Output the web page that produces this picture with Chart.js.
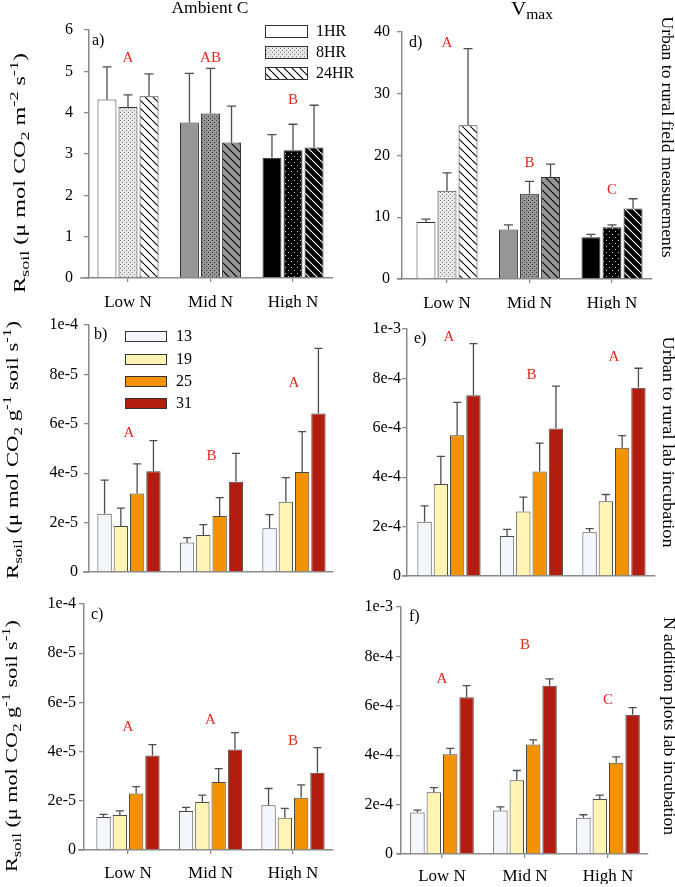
<!DOCTYPE html>
<html>
<head>
<meta charset="utf-8">
<script src="https://cdn.jsdelivr.net/npm/chart.js@4.4.1/dist/chart.umd.min.js"></script>
<style>
  html, body { margin: 0; padding: 0; background: #fff; overflow: hidden; }
  #wrap { position: relative; width: 675px; height: 887px; }
  #wrap canvas { position: absolute; left: 0; top: 0; }
</style>
</head>
<body>
<div id="wrap">
  <canvas id="pa" width="675" height="887"></canvas>
  <canvas id="pd" width="675" height="887"></canvas>
  <canvas id="pb" width="675" height="887"></canvas>
  <canvas id="pe" width="675" height="887"></canvas>
  <canvas id="pc" width="675" height="887"></canvas>
  <canvas id="pf" width="675" height="887"></canvas>
</div>
<script>
// --- data ---
const categories = ['Low N', 'Mid N', 'High N'];
const hours = ['1HR', '8HR', '24HR'];
const temps = ['13', '19', '25', '31'];

// a) Ambient C, field (one row per hour)
const ambientMean = [[4.32, 3.76, 2.91], [4.14, 3.98, 3.09], [4.40, 3.28, 3.16]];
const ambientErr  = [[0.79, 1.19, 0.56], [0.29, 1.09, 0.63], [0.54, 0.88, 1.02]];
const ambientLetters = ['A', 'AB', 'B'];

// d) Vmax, field
const vmaxMean = [[9.24, 8.0, 6.76], [14.3, 13.8, 8.38], [24.9, 16.5, 11.4]];
const vmaxErr  = [[0.46, 0.76, 0.48], [2.9, 2.0, 0.38], [12.4, 2.1, 1.6]];
const vmaxLetters = ['A', 'B', 'C'];

// b) urban to rural lab incubation, ambient (one row per temperature)
const labMean = [[2.36e-5, 1.19e-5, 1.77e-5], [1.86e-5, 1.50e-5, 2.84e-5], [3.18e-5, 2.27e-5, 4.05e-5], [4.08e-5, 3.65e-5, 6.42e-5]];
const labErr  = [[1.36e-5, 0.20e-5, 0.55e-5], [0.73e-5, 0.42e-5, 0.98e-5], [1.20e-5, 0.74e-5, 1.63e-5], [1.24e-5, 1.15e-5, 2.63e-5]];
const labLetters = ['A', 'B', 'A'];

// e) urban to rural lab incubation, Vmax
const labVmaxMean = [[2.20e-4, 1.62e-4, 1.77e-4], [3.72e-4, 2.61e-4, 3.03e-4], [5.70e-4, 4.23e-4, 5.19e-4], [7.32e-4, 5.97e-4, 7.62e-4]];
const labVmaxErr  = [[0.64e-4, 0.27e-4, 0.15e-4], [1.12e-4, 0.58e-4, 0.27e-4], [1.33e-4, 1.15e-4, 0.49e-4], [2.09e-4, 1.72e-4, 0.79e-4]];
const labVmaxLetters = ['A', 'B', 'A'];

// c) N addition plots lab incubation, ambient
const addMean = [[1.34e-5, 1.59e-5, 1.82e-5], [1.42e-5, 1.95e-5, 1.31e-5], [2.30e-5, 2.76e-5, 2.12e-5], [3.84e-5, 4.09e-5, 3.14e-5]];
const addErr  = [[0.11e-5, 0.14e-5, 0.68e-5], [0.17e-5, 0.28e-5, 0.38e-5], [0.28e-5, 0.55e-5, 0.53e-5], [0.44e-5, 0.68e-5, 1.02e-5]];
const addLetters = ['A', 'A', 'B'];

// f) N addition plots lab incubation, Vmax
const addVmaxMean = [[1.68e-4, 1.76e-4, 1.47e-4], [2.50e-4, 2.99e-4, 2.23e-4], [4.04e-4, 4.43e-4, 3.69e-4], [6.35e-4, 6.81e-4, 5.64e-4]];
const addVmaxErr  = [[0.10e-4, 0.15e-4, 0.12e-4], [0.19e-4, 0.39e-4, 0.15e-4], [0.24e-4, 0.19e-4, 0.24e-4], [0.47e-4, 0.28e-4, 0.29e-4]];
const addVmaxLetters = ['A', 'B', 'C'];

// tick values and their printed labels
const ticksAmbient = [0, 1, 2, 3, 4, 5, 6];
const ticksAmbientText = ['0', '1', '2', '3', '4', '5', '6'];
const ticksVmax = [0, 10, 20, 30, 40];
const ticksVmaxText = ['0', '10', '20', '30', '40'];
const ticksSmall = [0, 2e-5, 4e-5, 6e-5, 8e-5, 1e-4];
const ticksSmallText = ['0', '2e-5', '4e-5', '6e-5', '8e-5', '1e-4'];
const ticksLarge = [0, 2e-4, 4e-4, 6e-4, 8e-4, 1e-3];
const ticksLargeText = ['0', '2e-4', '4e-4', '6e-4', '8e-4', '1e-3'];

// --- styles ---
const FONT = "'Liberation Serif', 'Times New Roman', serif";
const AXIS = '#8a8a8a';
const RED = '#e3261e';
const tempColors = ['#f3f7fc', '#fff4b4', '#f39200', '#b31d10'];

Chart.defaults.font.family = FONT;
Chart.defaults.color = '#000';

function dotted(bg, fg, n) {
  const c = document.createElement('canvas');
  c.width = c.height = n;
  const g = c.getContext('2d');
  g.fillStyle = bg; g.fillRect(0, 0, n, n);
  g.fillStyle = fg;
  g.fillRect(0, 0, 1, 1);
  g.fillRect(n / 2, n / 2, 1, 1);
  return g.createPattern(c, 'repeat');
}

function hatched(bg, fg) {
  const n = 8;
  const c = document.createElement('canvas');
  c.width = c.height = n;
  const g = c.getContext('2d');
  g.fillStyle = bg; g.fillRect(0, 0, n, n);
  g.strokeStyle = fg; g.lineWidth = 1.1;
  g.beginPath();
  for (const o of [-n, 0, n]) { g.moveTo(o, 0); g.lineTo(o + n, n); }
  g.stroke();
  return g.createPattern(c, 'repeat');
}

// one row per hour, one entry per N level
const fieldFills = [
  ['#ffffff', '#969696', '#000000'],
  [dotted('#e6e6e6', '#8f8f8f', 4), dotted('#969696', '#383838', 4), dotted('#000000', '#d0d0d0', 6)],
  [hatched('#ffffff', '#000000'), hatched('#969696', '#000000'), hatched('#000000', '#ffffff')]
];

// panel geometry in page pixels
const layout = {
  a: { left: 89, right: 333, top: 30, bottom: 278, c1: 128, c3: 293, xStart: 80, pad: 11, xPad: 10, cat: 0.765, bar: 0.9, cap: 4.5 },
  d: { left: 402, right: 652, top: 32, bottom: 279, c1: 447, c3: 612, xStart: 397, pad: 7, xPad: 10, cat: 0.765, bar: 0.9, cap: 4.5 },
  b: { left: 89, right: 333, top: 325, bottom: 572, c1: 129, c3: 294, xStart: 83, pad: 6, xPad: 9, cat: 0.79, bar: 0.88, cap: 4 },
  e: { left: 407, right: 655, top: 329, bottom: 576, c1: 449, c3: 614, xStart: 402, pad: 1, xPad: 9, cat: 0.79, bar: 0.88, cap: 4 },
  c: { left: 84, right: 333, top: 604, bottom: 850, c1: 128, c3: 293, xStart: 78, pad: 3, xPad: 9, cat: 0.79, bar: 0.88, cap: 4 },
  f: { left: 401, right: 648, top: 607, bottom: 854, c1: 442, c3: 608, xStart: 397, pad: 3, xPad: 8, cat: 0.79, bar: 0.88, cap: 4 }
};

// rich text: _{sub} and ^{sup}
function parseRich(s) {
  const parts = [];
  const re = /([_^])\{([^}]*)\}/g;
  let last = 0, m;
  while ((m = re.exec(s))) {
    if (m.index > last) parts.push({ t: s.slice(last, m.index) });
    parts.push({ t: m[2], sub: m[1] === '_', sup: m[1] === '^' });
    last = re.lastIndex;
  }
  if (last < s.length) parts.push({ t: s.slice(last) });
  return parts;
}

function drawRich(ctx, s, x, y, size, rot, len) {
  const parts = parseRich(s);
  const small = Math.round(size * 0.72);
  ctx.save();
  ctx.translate(x, y);
  ctx.rotate(rot || 0);
  let w = 0;
  const widths = parts.map(p => {
    ctx.font = (p.sub || p.sup ? small : size) + 'px ' + FONT;
    const pw = ctx.measureText(p.t).width;
    w += pw;
    return pw;
  });
  if (len) ctx.scale(len / w, 1);
  ctx.fillStyle = '#000';
  ctx.textAlign = 'left';
  ctx.textBaseline = 'middle';
  let cx = -w / 2;
  parts.forEach((p, i) => {
    ctx.font = (p.sub || p.sup ? small : size) + 'px ' + FONT;
    const dy = p.sub ? size * 0.3 : p.sup ? -size * 0.38 : 0;
    ctx.fillText(p.t, cx, dy);
    cx += widths[i];
  });
  ctx.restore();
}

const yTitleField = 'R_{soil} (μ mol CO_{2} m^{-2} s^{-1})';
const yTitleLab = 'R_{soil} (μ mol CO_{2} g^{-1} soil s^{-1})';

const decoById = {
  pa: {
    tag: 'a)', tagPos: [92, 41], letters: ambientLetters, letterY: [5.32, 5.32, 4.31], xStart: layout.a.xStart,
    legend: { labels: hours, fills: fieldFills.map(r => r[0]), x: 265, w: 42, h: 12, ys: [31, 52, 73], tx: 316 },
    texts: [
      { s: 'Ambient C', x: 210, y: 9, size: 17, len: 77 },
      { s: yTitleField, x: 21, y: 173, size: 16, rot: -Math.PI / 2, len: 240 }
    ]
  },
  pd: {
    tag: 'd)', tagPos: [409, 43], letters: vmaxLetters, letterY: [38.2, 18.8, 14.4], xStart: layout.d.xStart,
    texts: [
      { s: 'V_{max}', x: 532, y: 10, size: 19, len: 42 },
      { s: 'Urban to rural field measurements', x: 666, y: 137, size: 17, rot: Math.PI / 2, len: 241 }
    ]
  },
  pb: {
    tag: 'b)', tagPos: [94, 335], letters: labLetters, letterY: [56.3e-6, 47.0e-6, 76.5e-6], xStart: layout.b.xStart,
    legend: { labels: temps, fills: tempColors, x: 125, w: 41, h: 10, ys: [336, 359, 381, 403], tx: 176 },
    texts: [
      { s: yTitleLab, x: 14, y: 450, size: 16, rot: -Math.PI / 2, len: 258 }
    ]
  },
  pe: {
    tag: 'e)', tagPos: [414, 339], letters: labVmaxLetters, letterY: [9.68e-4, 8.14e-4, 8.87e-4], xStart: layout.e.xStart,
    texts: [
      { s: 'Urban to rural lab incubation', x: 667, y: 442, size: 17, rot: Math.PI / 2, len: 211 }
    ]
  },
  pc: {
    tag: 'c)', tagPos: [91, 615], letters: addLetters, letterY: [50.0e-6, 52.8e-6, 44.3e-6], xStart: layout.c.xStart,
    texts: [
      { s: yTitleLab, x: 13, y: 746, size: 16, rot: -Math.PI / 2, len: 252 }
    ]
  },
  pf: {
    tag: 'f)', tagPos: [409, 617], letters: addVmaxLetters, letterY: [7.09e-4, 8.46e-4, 6.23e-4], xStart: layout.f.xStart,
    texts: [
      { s: 'N addition plots lab incubation', x: 668, y: 726, size: 17, rot: Math.PI / 2, len: 218 }
    ]
  }
};

// upper error bars, from dataset.errors
const errorBars = {
  id: 'errorBars',
  afterDatasetsDraw(chart) {
    const ctx = chart.ctx, ys = chart.scales.y;
    const cap = chart.options.plugins.errorBars.cap;
    ctx.save();
    ctx.strokeStyle = '#4d4d4d';
    ctx.lineWidth = 1.3;
    chart.data.datasets.forEach((ds, i) => {
      chart.getDatasetMeta(i).data.forEach((bar, j) => {
        const top = ys.getPixelForValue(ds.data[j].y + ds.errors[j]);
        ctx.beginPath();
        ctx.moveTo(bar.x, bar.y);
        ctx.lineTo(bar.x, top);
        ctx.moveTo(bar.x - cap, top);
        ctx.lineTo(bar.x + cap, top);
        ctx.stroke();
      });
    });
    ctx.restore();
  }
};

// labels, letters, legends, titles
const deco = {
  id: 'deco',
  afterDraw(chart) {
    const d = decoById[chart.canvas.id];
    if (!d) return;
    const ctx = chart.ctx, area = chart.chartArea;
    const xs = chart.scales.x, ys = chart.scales.y;
    ctx.save();
    ctx.strokeStyle = AXIS;
    ctx.lineWidth = 1.5;
    ctx.beginPath();
    ctx.moveTo(d.xStart, area.bottom);
    ctx.lineTo(area.left, area.bottom);
    ctx.stroke();

    ctx.fillStyle = '#000';
    ctx.font = '16px ' + FONT;
    ctx.textAlign = 'left';
    ctx.textBaseline = 'middle';
    ctx.fillText(d.tag, d.tagPos[0], d.tagPos[1]);

    ctx.fillStyle = RED;
    ctx.font = '15px ' + FONT;
    ctx.textAlign = 'center';
    d.letters.forEach((t, i) => ctx.fillText(t, xs.getPixelForValue(i), ys.getPixelForValue(d.letterY[i])));

    if (d.legend) {
      const L = d.legend;
      L.labels.forEach((lab, i) => {
        ctx.fillStyle = L.fills[i];
        ctx.fillRect(L.x, L.ys[i] - L.h / 2, L.w, L.h);
        ctx.strokeStyle = '#333';
        ctx.lineWidth = 1;
        ctx.strokeRect(L.x + 0.5, L.ys[i] - L.h / 2 + 0.5, L.w, L.h);
        ctx.fillStyle = '#000';
        ctx.font = '16px ' + FONT;
        ctx.textAlign = 'left';
        ctx.fillText(lab, L.tx, L.ys[i] + 1);
      });
    }
    d.texts.forEach(t => drawRich(ctx, t.s, t.x, t.y, t.size, t.rot, t.len));
    ctx.restore();
  }
};

function build(id, p, datasets, yTicks, yText, showX) {
  const k = (p.c3 - p.c1) / 2;
  const yW = 60, xH = 30;
  return new Chart(document.getElementById(id), {
    type: 'bar',
    data: { datasets },
    options: {
      responsive: false,
      animation: false,
      events: [],
      layout: { padding: { left: p.left - yW, right: 675 - p.right, top: p.top, bottom: 887 - p.bottom - xH } },
      datasets: { bar: { categoryPercentage: p.cat, barPercentage: p.bar } },
      plugins: { legend: { display: false }, tooltip: { enabled: false }, errorBars: { cap: p.cap } },
      scales: {
        x: {
          type: 'linear',
          bounds: 'data',
          offset: false,
          min: -(p.c1 - p.left) / k,
          max: 2 + (p.right - p.c3) / k,
          afterBuildTicks: s => { s.ticks = categories.map((c, i) => ({ value: i })); },
          afterFit: s => { s.height = xH; },
          ticks: { display: showX, callback: v => categories[v], font: { size: 17 }, padding: p.xPad, maxRotation: 0, autoSkip: false },
          grid: { offset: false, drawOnChartArea: false, drawTicks: showX, tickLength: 4, color: AXIS, lineWidth: 1.3 },
          border: { color: AXIS, width: 1.5 }
        },
        y: {
          min: 0,
          max: yTicks[yTicks.length - 1],
          afterBuildTicks: s => { s.ticks = yTicks.map(v => ({ value: v })); },
          afterFit: s => { s.width = yW; },
          ticks: { callback: (v, i) => yText[i], font: { size: 16 }, padding: p.pad },
          grid: { drawOnChartArea: false, tickLength: 5, color: AXIS, lineWidth: 1.3 },
          border: { color: AXIS, width: 1.5 }
        }
      }
    },
    plugins: [errorBars, deco]
  });
}

function hourSets(means, errs) {
  return hours.map((h, i) => ({
    label: h,
    data: means[i].map((v, j) => ({ x: j, y: v })),
    errors: errs[i],
    backgroundColor: fieldFills[i],
    borderColor: '#333',
    borderWidth: 1
  }));
}

function tempSets(means, errs) {
  return temps.map((t, i) => ({
    label: t,
    data: means[i].map((v, j) => ({ x: j, y: v })),
    errors: errs[i],
    backgroundColor: tempColors[i],
    borderColor: '#4a4a4a',
    borderWidth: 1
  }));
}

build('pa', layout.a, hourSets(ambientMean, ambientErr), ticksAmbient, ticksAmbientText, true);
build('pd', layout.d, hourSets(vmaxMean, vmaxErr), ticksVmax, ticksVmaxText, true);
build('pb', layout.b, tempSets(labMean, labErr), ticksSmall, ticksSmallText, false);
build('pe', layout.e, tempSets(labVmaxMean, labVmaxErr), ticksLarge, ticksLargeText, false);
build('pc', layout.c, tempSets(addMean, addErr), ticksSmall, ticksSmallText, true);
build('pf', layout.f, tempSets(addVmaxMean, addVmaxErr), ticksLarge, ticksLargeText, true);
</script>
</body>
</html>
